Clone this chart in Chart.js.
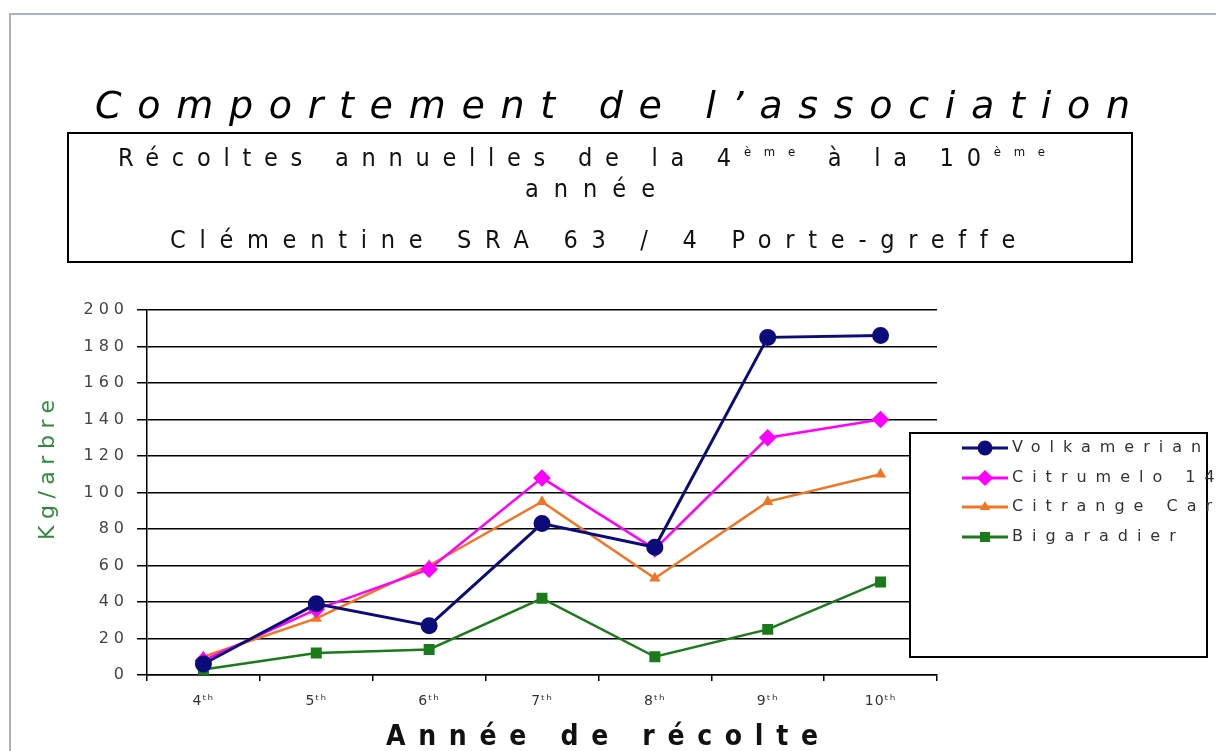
<!DOCTYPE html>
<html lang="fr">
<head>
<meta charset="utf-8">
<title>Comportement de l'association</title>
<script src="https://cdn.jsdelivr.net/npm/chart.js@4/dist/chart.umd.min.js"></script>
<style>
  html, body { margin: 0; padding: 0; background: #fff; overflow: hidden; }
  #contenedor { position: relative; width: 1216px; height: 751px; }
</style>
</head>
<body>
<div id="contenedor"><canvas id="grafico"></canvas></div>
<script>
// Datos
const categorias = ['4ᵗʰ', '5ᵗʰ', '6ᵗʰ', '7ᵗʰ', '8ᵗʰ', '9ᵗʰ', '10ᵗʰ'];
const volkamerian = [6, 39, 27, 83, 70, 185, 186];
const citrumelo = [8, 36, 58, 108, 69, 130, 140];
const citrange = [10, 31, 60, 95, 53, 95, 110];
const bigaradier = [3, 12, 14, 42, 10, 25, 51];
const nombresSeries = ['Volkamerian', 'Citrumelo 1452', 'Citrange Carrizo', 'Bigaradier'];
const yTicks = { min: 0, max: 200, step: 20 };

const FUENTE = '"DejaVu Sans", Verdana, sans-serif';
const FUENTE_ESTRECHA = '"DejaVu Sans Condensed", "Liberation Sans Narrow", "DejaVu Sans", sans-serif';

// Dibuja texto repartido entre x0 y x1 (espaciado de letras calculado)
function textoEspaciado(ctx, segmentos, x0, x1, y) {
    ctx.letterSpacing = '0px';
    let ancho = 0, n = 0;
    segmentos.forEach(s => {
        ctx.font = s.font;
        s.w = ctx.measureText(s.t).width;
        ancho += s.w;
        n += [...s.t].length;
    });
    const esp = (x1 - x0 - ancho) / Math.max(n - 1, 1);
    let x = x0;
    ctx.textAlign = 'left';
    ctx.textBaseline = 'alphabetic';
    segmentos.forEach(s => {
        ctx.font = s.font;
        ctx.letterSpacing = esp + 'px';
        ctx.fillText(s.t, x, y + (s.dy || 0));
        x += s.w + esp * [...s.t].length;
    });
    ctx.letterSpacing = '0px';
}

// Plugin para el marco, títulos y leyenda
const decoracion = {
    id: 'decoracion',
    beforeDraw(chart) {
        const ctx = chart.ctx;
        ctx.save();
        ctx.fillStyle = '#ffffff';
        ctx.fillRect(0, 0, chart.width, chart.height);
        ctx.strokeStyle = '#a9b0d2';
        ctx.lineWidth = 2;
        ctx.beginPath();
        ctx.moveTo(10, chart.height);
        ctx.lineTo(10, 14);
        ctx.lineTo(chart.width, 14);
        ctx.stroke();
        ctx.restore();
        // espaciado de las etiquetas del eje Y
        ctx.letterSpacing = '5px';
    },
    afterDatasetsDraw(chart) {
        // espaciado de las etiquetas del eje X (dibujadas después)
        chart.ctx.letterSpacing = '1px';
    },
    afterDraw(chart) {
        const ctx = chart.ctx;
        ctx.save();
        ctx.fillStyle = '#000';

        // Título principal
        textoEspaciado(ctx, [{ t: 'Comportement de l’association', font: 'italic 38px ' + FUENTE }], 95, 1130, 118);

        // Recuadro del subtítulo
        ctx.strokeStyle = '#000';
        ctx.lineWidth = 2;
        ctx.strokeRect(68, 133, 1064, 129);
        const f = '25px ' + FUENTE_ESTRECHA, fs = '13px ' + FUENTE_ESTRECHA;
        ctx.fillStyle = '#111';
        textoEspaciado(ctx, [
            { t: 'Récoltes annuelles de la 4', font: f },
            { t: 'ème', font: fs, dy: -10 },
            { t: ' à la 10', font: f },
            { t: 'ème', font: fs, dy: -10 }
        ], 118, 1045, 166);
        textoEspaciado(ctx, [{ t: 'année', font: f }], 525, 655, 197);
        textoEspaciado(ctx, [{ t: 'Clémentine SRA 63 / 4 Porte-greffe', font: f }], 170, 1015, 248);

        // Título eje Y
        ctx.save();
        ctx.translate(54, 470);
        ctx.rotate(-Math.PI / 2);
        ctx.fillStyle = '#2e8b3a';
        textoEspaciado(ctx, [{ t: 'Kg/arbre', font: '22px ' + FUENTE }], -70, 70, 0);
        ctx.restore();

        // Título eje X
        ctx.fillStyle = '#111';
        textoEspaciado(ctx, [{ t: 'Année de récolte', font: 'bold 28px ' + FUENTE_ESTRECHA }], 386, 818, 745);

        // Leyenda
        ctx.fillStyle = '#ffffff';
        ctx.fillRect(910, 433, 297, 224);
        ctx.strokeStyle = '#000';
        ctx.lineWidth = 2;
        ctx.strokeRect(910, 433, 297, 224);
        const filas = [448, 478, 507, 537];
        chart.data.datasets.forEach((ds, i) => {
            const y = filas[i];
            ctx.strokeStyle = ds.borderColor;
            ctx.lineWidth = 3;
            ctx.beginPath();
            ctx.moveTo(962, y);
            ctx.lineTo(1008, y);
            ctx.stroke();
            ctx.fillStyle = ds.pointBackgroundColor;
            ctx.strokeStyle = ds.borderColor;
            Chart.helpers.drawPoint(ctx, {
                pointStyle: ds.pointStyle,
                radius: ds.pointRadius - 1,
                rotation: 0,
                borderWidth: 1
            }, 985, y);
            ctx.fillStyle = '#333';
            ctx.font = '16px ' + FUENTE;
            ctx.letterSpacing = '9px';
            ctx.textAlign = 'left';
            ctx.textBaseline = 'middle';
            ctx.fillText(ds.label, 1012, y);
        });
        ctx.restore();
        ctx.letterSpacing = '0px';
    }
};

function serie(nombre, datos, color, estilo, radio, grosor) {
    return {
        label: nombre,
        data: datos,
        borderColor: color,
        backgroundColor: color,
        pointBackgroundColor: color,
        pointBorderColor: color,
        pointStyle: estilo,
        pointRadius: radio,
        pointHoverRadius: radio,
        borderWidth: grosor,
        tension: 0,
        fill: false
    };
}

const ctx = document.getElementById('grafico').getContext('2d');
new Chart(ctx, {
    type: 'line',
    data: {
        labels: categorias,
        datasets: [
            serie(nombresSeries[0], volkamerian, '#0b0b7a', 'circle', 7, 3),
            serie(nombresSeries[1], citrumelo, '#ff00ff', 'rectRot', 7, 2.5),
            serie(nombresSeries[2], citrange, '#f27522', 'triangle', 4, 2.5),
            serie(nombresSeries[3], bigaradier, '#1b7a1b', 'rect', 6, 2.5)
        ]
    },
    plugins: [decoracion],
    options: {
        responsive: true,
        maintainAspectRatio: false,
        animation: false,
        layout: { padding: { left: 0, top: 310, right: 279, bottom: 0 } },
        plugins: {
            legend: { display: false },
            title: { display: false },
            tooltip: { enabled: false }
        },
        scales: {
            x: {
                offset: true,
                afterFit: s => { s.height = 76; },
                grid: { offset: true, drawOnChartArea: false, color: '#000', lineWidth: 1.5, tickLength: 6 },
                border: { color: '#000', width: 1.5 },
                ticks: { z: 1, color: '#333', padding: 12, maxRotation: 0, font: { family: FUENTE, size: 14 } }
            },
            y: {
                min: yTicks.min,
                max: yTicks.max,
                afterFit: s => { s.width = 147; },
                grid: { color: '#000', lineWidth: 1.5, tickLength: 10 },
                border: { color: '#000', width: 1.5 },
                ticks: { z: 0, stepSize: yTicks.step, color: '#444', padding: 8, font: { family: FUENTE, size: 16 } }
            }
        }
    }
});
</script>
</body>
</html>
